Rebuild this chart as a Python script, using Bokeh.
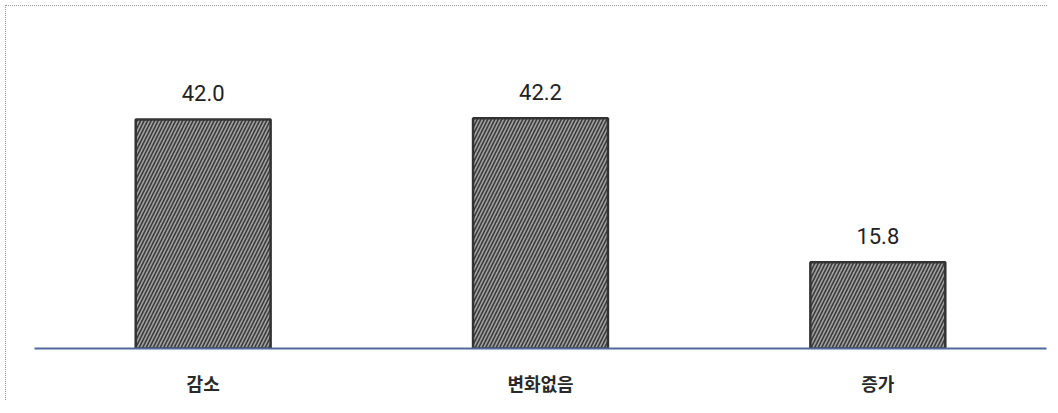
from bokeh.plotting import figure
from bokeh.models import ColumnDataSource, LabelSet, Range1d
from bokeh.core.properties import value
from bokeh.embed import file_html
from bokeh.resources import INLINE

categories = ["감소", "변화없음", "증가"]
values = [42.0, 42.2, 15.8]
value_labels = ["42.0", "42.2", "15.8"]

src = ColumnDataSource(dict(cat=categories, val=values, lab=value_labels))

p = figure(x_range=categories, y_range=Range1d(0, 55), width=1042, height=395,
           output_backend="svg", toolbar_location=None,
           min_border_left=28, min_border_right=2, min_border_top=42, min_border_bottom=53)
p.margin = (5, 5, 0, 5)
p.styles = {"border-top": "1px dotted #999999", "border-left": "1px dotted #999999"}
p.outline_line_color = None
p.grid.visible = False
p.yaxis.visible = False
p.x_range.range_padding = 0

p.vbar(x="cat", top="val", source=src, width=0.4, fill_color="#a0a0a0",
       line_color="#333333", line_width=2.5, hatch_pattern="/", hatch_color="#3a3a3a",
       hatch_scale=7, hatch_weight=1.6)

labels = LabelSet(x="cat", y="val", text="lab", source=src, text_align="center",
                  text_baseline="bottom", y_offset=18,
                  text_font=value("Roboto"),
                  text_font_size="22px", text_color="#222222")
p.add_layout(labels)

ax = p.xaxis[0]
ax.axis_line_color = "#4f6a9a"
ax.axis_line_width = 2
ax.major_tick_line_color = None
ax.minor_tick_line_color = None
ax.major_label_standoff = 15
ax.major_label_text_font = "Noto Sans CJK KR"
ax.major_label_text_font_size = "18px"
ax.major_label_text_font_style = "bold"
ax.major_label_text_color = "#2a2a2a"

open("out.html", "w").write(file_html(p, INLINE))
